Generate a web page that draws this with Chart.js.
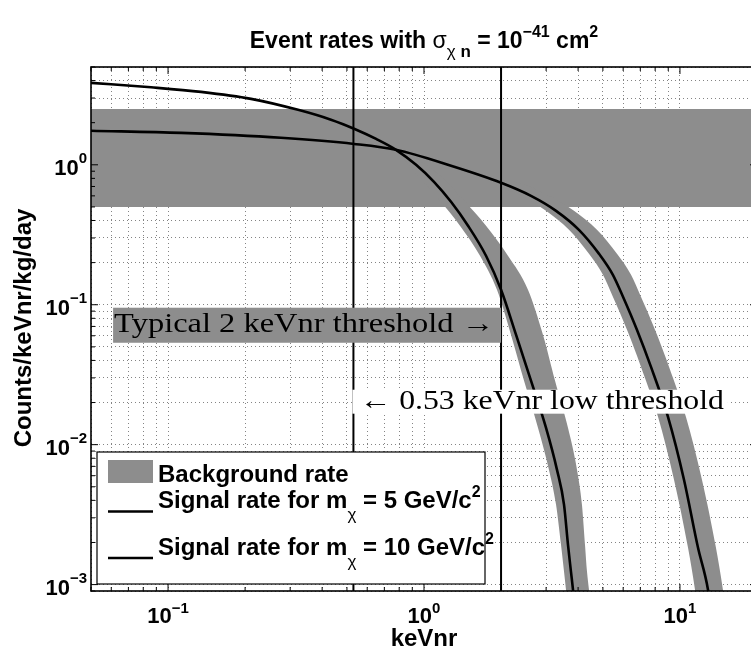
<!DOCTYPE html>
<html>
<head>
<meta charset="utf-8">
<script src="https://cdn.jsdelivr.net/npm/chart.js@4.4.0/dist/chart.umd.min.js"></script>
<style>
html, body { margin: 0; padding: 0; background: #fff; overflow: hidden; }
#wrap { width: 760px; height: 658px; }
</style>
</head>
<body>
<div id="wrap"><canvas id="rates" width="760" height="658"></canvas></div>
<script>
(function () {
	'use strict';

	// axis limits (keVnr, counts/keVnr/kg/day)
	const xMin = 0.05, xMax = 20;
	const yMin = 0.0009, yMax = 5;

	const xTickValues = [0.1, 1, 10];
	const xTickExponents = ['\u22121', '0', '1'];
	const yTickValues = [0.001, 0.01, 0.1, 1];
	const yTickExponents = ['\u22123', '\u22122', '\u22121', '0'];

	// flat background rate band
	const backgroundLow = 0.5;
	const backgroundHigh = 2.5;

	// thresholds (keVnr)
	const lowThreshold = 0.53;
	const typicalThreshold = 2;

	// signal rate, m = 5 GeV/c^2
	const signal5Energy = [0.05, 0.0858, 0.1345, 0.211, 0.322, 0.433, 0.533, 0.650, 0.777, 0.931, 1.094, 1.275, 1.486, 1.747, 2.0, 2.288, 2.618, 2.996, 3.307, 3.524, 3.652, 3.751, 3.82, 3.925];
	const signal5Rate = [3.85, 3.58, 3.32, 2.96, 2.47, 2.10, 1.81, 1.53, 1.28, 1.0, 0.756, 0.544, 0.367, 0.224, 0.128, 0.0611, 0.0287, 0.01322, 0.00663, 0.00373, 0.00193, 0.00124, 0.00092, 0.00056];
	// uncertainty band edges, m = 5 GeV/c^2
	const band5HiEnergy = [0.777, 1.084, 1.446, 1.747, 2.128, 2.548, 2.916, 3.249, 3.652, 3.96, 4.14, 4.256, 4.333, 4.411, 4.53, 4.91];
	const band5HiRate = [1.28, 0.921, 0.544, 0.367, 0.224, 0.128, 0.0611, 0.0287, 0.01322, 0.00663, 0.00373, 0.00193, 0.00124, 0.00092, 0.00056, 0.00029];
	const band5LoEnergy = [0.777, 0.906, 1.165, 1.382, 1.655, 1.928, 2.187, 2.458, 2.788, 3.077, 3.28, 3.43, 3.524, 3.587, 3.685, 4.91];
	const band5LoRate = [1.28, 0.921, 0.544, 0.367, 0.224, 0.128, 0.0611, 0.0287, 0.01322, 0.00663, 0.00373, 0.00193, 0.00124, 0.00092, 0.00056, 0.000001];

	// signal rate, m = 10 GeV/c^2
	const signal10Energy = [0.05, 0.1125, 0.276, 0.533, 0.777, 1.275, 2.0, 2.618, 3.28, 4.03, 4.83, 5.47, 5.99, 6.79, 7.70, 8.98, 10.37, 11.76, 12.87, 13.34];
	const signal10Rate = [1.75, 1.69, 1.56, 1.41, 1.28, 0.984, 0.744, 0.600, 0.469, 0.343, 0.231, 0.1637, 0.1141, 0.0663, 0.0361, 0.0158, 0.00562, 0.00184, 0.00092, 0.00056];
	// uncertainty band edges, m = 10 GeV/c^2
	const band10HiEnergy = [1.827, 2.35, 3.077, 3.854, 4.74, 5.675, 6.44, 7.04, 7.99, 9.06, 10.55, 12.19, 13.82, 14.72, 15.26, 17.3];
	const band10HiRate = [0.781, 0.744, 0.600, 0.469, 0.343, 0.231, 0.1637, 0.1141, 0.0663, 0.0361, 0.0158, 0.00562, 0.00184, 0.00092, 0.00056, 0.00029];
	const band10LoEnergy = [1.827, 2.393, 2.996, 3.685, 4.411, 5.003, 5.47, 6.21, 7.04, 8.21, 9.48, 10.75, 11.45, 11.87, 17.3];
	const band10LoRate = [0.744, 0.600, 0.469, 0.343, 0.231, 0.1637, 0.1141, 0.0663, 0.0361, 0.0158, 0.00562, 0.00184, 0.00092, 0.00056, 0.000001];

	const GRAY = '#8d8d8d';
	const GRID = 'rgba(50,50,50,0.6)';
	const SANS = '"Liberation Sans", Arial, Helvetica, sans-serif';
	const SERIF = '"Liberation Serif", "DejaVu Serif", serif';
	const bold = s => 'bold ' + s + 'px ' + SANS;
	const plain = s => s + 'px ' + SANS;

	const pts = (xs, ys) => xs.map((v, i) => ({x: v, y: ys[i]}));

	// 1..9 x 10^n positions for the dotted minor grid
	function gridValues(lo, hi) {
		const out = [];
		for (let e = -4; e <= 2; e++) {
			for (let m = 1; m <= 9; m++) {
				const v = +(m * Math.pow(10, e)).toPrecision(3);
				if (v >= lo * 0.999 && v <= hi * 1.001) out.push(v);
			}
		}
		return out;
	}
	const isDecade = v => Math.abs(Math.log10(v) - Math.round(Math.log10(v))) < 1e-6;

	function richWidth(ctx, parts) {
		let w = 0;
		parts.forEach(p => { ctx.font = p.font; w += ctx.measureText(p.text).width; });
		return w;
	}

	function drawRich(ctx, parts, x, y, align) {
		const w = richWidth(ctx, parts);
		let cx = align === 'center' ? x - w / 2 : align === 'right' ? x - w : x;
		ctx.textAlign = 'left';
		ctx.textBaseline = 'alphabetic';
		parts.forEach(p => {
			ctx.font = p.font;
			ctx.fillText(p.text, cx, y + (p.dy || 0));
			cx += ctx.measureText(p.text).width;
		});
	}

	// serif annotation squeezed/stretched to a given width
	function fitText(ctx, text, x, y, width, size) {
		ctx.font = size + 'px ' + SERIF;
		const w = ctx.measureText(text).width;
		ctx.save();
		ctx.translate(x, y);
		ctx.scale(width / w, 1);
		ctx.textAlign = 'left';
		ctx.textBaseline = 'alphabetic';
		ctx.fillText(text, 0, 0);
		ctx.restore();
	}

	const decorations = {
		id: 'decorations',
		afterDatasetsDraw(chart) {
			const {ctx, chartArea: area, scales: {x, y}} = chart;
			ctx.save();
			ctx.fillStyle = '#000';

			// "Typical 2 keVnr threshold" label on a gray box
			let l = x.getPixelForValue(0.061), r = x.getPixelForValue(typicalThreshold);
			let t = y.getPixelForValue(0.0952), b = y.getPixelForValue(0.0535);
			ctx.fillStyle = GRAY;
			ctx.fillRect(l, t, r - l, b - t);
			ctx.fillStyle = '#000';
			fitText(ctx, 'Typical 2 keVnr threshold \u2192', l + 1, b - 11, r - l - 8, 27);

			// "0.53 keVnr low threshold" label on a white box
			l = x.getPixelForValue(lowThreshold) - 1;
			r = x.getPixelForValue(15.4);
			t = y.getPixelForValue(0.0247);
			b = y.getPixelForValue(0.01665);
			ctx.fillStyle = '#fff';
			ctx.fillRect(l, t, r - l, b - t);
			ctx.fillStyle = '#000';
			fitText(ctx, '\u2190 0.53 keVnr low threshold', l + 7, b - 5, r - l - 11, 27);

			// legend
			const lx = area.left + 6, lw = 388, lh = 132;
			const ly = area.bottom - 7 - lh;
			ctx.fillStyle = '#fff';
			ctx.fillRect(lx, ly, lw, lh);
			ctx.strokeStyle = '#000';
			ctx.lineWidth = 1.2;
			ctx.strokeRect(lx, ly, lw, lh);
			ctx.fillStyle = GRAY;
			ctx.fillRect(lx + 11, ly + 8, 45, 23);
			ctx.lineWidth = 2.5;
			[ly + 59.5, ly + 106].forEach(yy => {
				ctx.beginPath();
				ctx.moveTo(lx + 11, yy);
				ctx.lineTo(lx + 56, yy);
				ctx.stroke();
			});
			ctx.fillStyle = '#000';
			const tx = lx + 61;
			drawRich(ctx, [{text: 'Background rate', font: bold(24)}], tx, ly + 30, 'left');
			drawRich(ctx, [
				{text: 'Signal rate for m', font: bold(24)},
				{text: '\u03c7', font: plain(17), dy: 12},
				{text: ' = 5 GeV/c', font: bold(24)},
				{text: '2', font: bold(16), dy: -11}
			], tx, ly + 56, 'left');
			drawRich(ctx, [
				{text: 'Signal rate for m', font: bold(24)},
				{text: '\u03c7', font: plain(17), dy: 12},
				{text: ' = 10 GeV/c', font: bold(24)},
				{text: '2', font: bold(16), dy: -11}
			], tx, ly + 103, 'left');

			// box and inward ticks on all sides
			ctx.strokeStyle = '#000';
			ctx.lineWidth = 1;
			x.ticks.forEach(tk => {
				const px = x.getPixelForValue(tk.value);
				const len = isDecade(tk.value) ? 7 : 4;
				ctx.beginPath();
				ctx.moveTo(px, area.bottom); ctx.lineTo(px, area.bottom - len);
				ctx.moveTo(px, area.top); ctx.lineTo(px, area.top + len);
				ctx.stroke();
			});
			y.ticks.forEach(tk => {
				const py = y.getPixelForValue(tk.value);
				const len = isDecade(tk.value) ? 7 : 4;
				ctx.beginPath();
				ctx.moveTo(area.left, py); ctx.lineTo(area.left + len, py);
				ctx.moveTo(area.right, py); ctx.lineTo(area.right - len, py);
				ctx.stroke();
			});
			ctx.lineWidth = 1.6;
			ctx.strokeRect(area.left, area.top, area.right - area.left, area.bottom - area.top);

			// tick labels
			ctx.fillStyle = '#000';
			xTickValues.forEach((v, i) => {
				drawRich(ctx, [
					{text: '10', font: bold(22)},
					{text: xTickExponents[i], font: bold(15), dy: -10}
				], x.getPixelForValue(v), area.bottom + 32, 'center');
			});
			yTickValues.forEach((v, i) => {
				drawRich(ctx, [
					{text: '10', font: bold(22)},
					{text: yTickExponents[i], font: bold(15), dy: -12}
				], area.left - 4, y.getPixelForValue(v) + 10, 'right');
			});

			// axis titles
			drawRich(ctx, [{text: 'keVnr', font: bold(24)}], (area.left + area.right) / 2, 646, 'center');
			ctx.save();
			ctx.translate(31, 328);
			ctx.rotate(-Math.PI / 2);
			drawRich(ctx, [{text: 'Counts/keVnr/kg/day', font: bold(24)}], 0, 0, 'center');
			ctx.restore();

			// title
			drawRich(ctx, [
				{text: 'Event rates with ', font: bold(23)},
				{text: '\u03c3', font: plain(23)},
				{text: '\u03c7', font: plain(17), dy: 9},
				{text: ' n', font: bold(17), dy: 9},
				{text: ' = 10', font: bold(23)},
				{text: '\u221241', font: bold(16), dy: -11},
				{text: ' cm', font: bold(23)},
				{text: '2', font: bold(16), dy: -11}
			], (area.left + area.right) / 2, 48, 'center');

			ctx.restore();
		}
	};

	const noLine = 'rgba(0,0,0,0)';

	new Chart(document.getElementById('rates'), {
		type: 'line',
		data: {
			datasets: [
				{data: pts([xMin, xMax], [backgroundHigh, backgroundHigh]), fill: '+1', backgroundColor: GRAY, borderColor: noLine, borderWidth: 0, order: 10},
				{data: pts([xMin, xMax], [backgroundLow, backgroundLow]), fill: false, borderColor: noLine, borderWidth: 0, order: 10},
				{data: pts(band5HiEnergy, band5HiRate), fill: '+1', backgroundColor: GRAY, borderColor: noLine, borderWidth: 0, order: 8},
				{data: pts(band5LoEnergy, band5LoRate), fill: false, borderColor: noLine, borderWidth: 0, order: 8},
				{data: pts(band10HiEnergy, band10HiRate), fill: '+1', backgroundColor: GRAY, borderColor: noLine, borderWidth: 0, order: 8},
				{data: pts(band10LoEnergy, band10LoRate), fill: false, borderColor: noLine, borderWidth: 0, order: 8},
				{data: pts(signal5Energy, signal5Rate), fill: false, borderColor: '#000', borderWidth: 2.6, order: 4},
				{data: pts(signal10Energy, signal10Rate), fill: false, borderColor: '#000', borderWidth: 2.6, order: 4},
				{data: pts([lowThreshold, lowThreshold], [yMin, yMax]), fill: false, borderColor: '#000', borderWidth: 2, order: 2},
				{data: pts([typicalThreshold, typicalThreshold], [yMin, yMax]), fill: false, borderColor: '#000', borderWidth: 2, order: 2}
			]
		},
		options: {
			responsive: false,
			animation: false,
			devicePixelRatio: 1,
			events: [],
			layout: {padding: {top: 67, right: 3, left: 0, bottom: 0}},
			elements: {
				point: {radius: 0, hitRadius: 0},
				line: {cubicInterpolationMode: 'monotone'}
			},
			plugins: {
				legend: {display: false},
				tooltip: {enabled: false}
			},
			scales: {
				x: {
					type: 'logarithmic',
					min: xMin,
					max: xMax,
					afterBuildTicks: s => { s.ticks = gridValues(xMin, xMax).map(v => ({value: v})); },
					afterFit: s => { s.height = 67; },
					ticks: {display: false},
					grid: {color: GRID, lineWidth: 1, drawTicks: false},
					border: {display: false, dash: [1, 3]}
				},
				y: {
					type: 'logarithmic',
					min: yMin,
					max: yMax,
					afterBuildTicks: s => { s.ticks = gridValues(yMin, yMax).map(v => ({value: v})); },
					afterFit: s => { s.width = 91; },
					ticks: {display: false},
					grid: {color: GRID, lineWidth: 1, drawTicks: false},
					border: {display: false, dash: [1, 3]}
				}
			}
		},
		plugins: [decorations]
	});
})();
</script>
</body>
</html>
